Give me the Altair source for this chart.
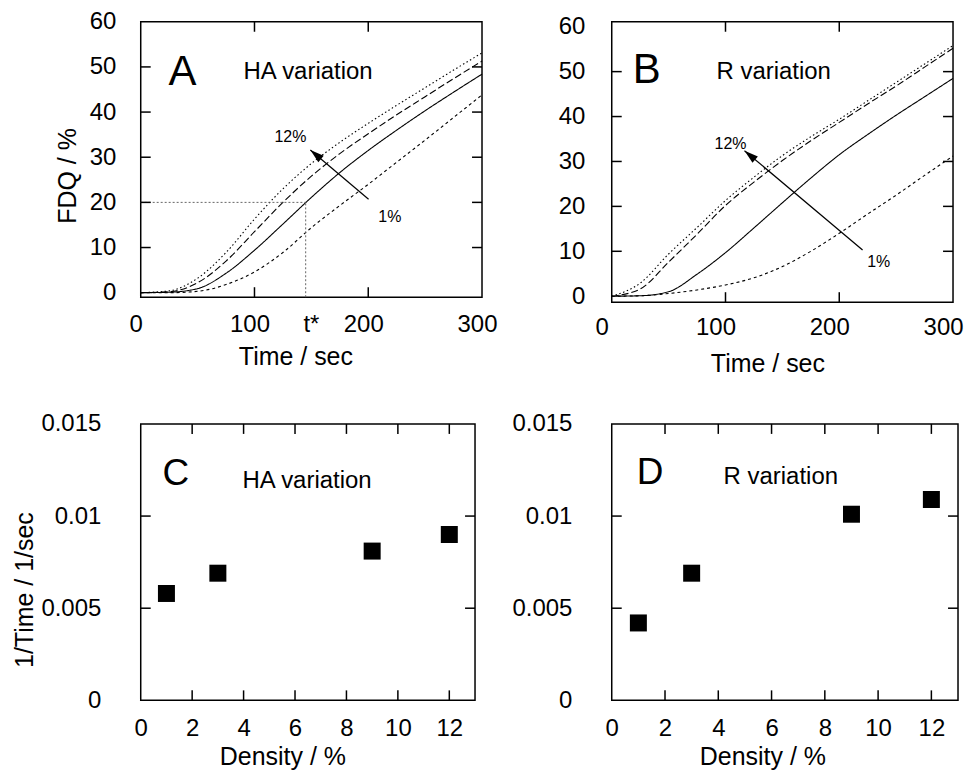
import altair as alt
import pandas as pd

FONT = "Liberation Sans"

# ---------------- data ----------------
TIME = [0, 25, 50, 75, 100, 125, 150, 175, 200, 225, 250, 275, 300]
SERIES = ["1%", "3%", "9%", "12%"]

# Panel A : HA variation (FDQ %)
HA_1 = [0, 0.0, 0.3, 1.8, 4.6, 8.9, 14.4, 19.3, 24.0, 28.9, 33.8, 38.8, 43.8]
HA_3 = [0, 0.1, 0.9, 4.3, 9.4, 15.2, 21.1, 26.6, 31.5, 36.0, 40.3, 44.4, 48.4]
HA_9 = [0, 0.2, 2.2, 7.0, 13.5, 20.0, 25.8, 30.8, 35.2, 39.4, 43.4, 47.4, 51.3]
HA_12 = [0, 0.4, 3.2, 8.9, 16.3, 23.0, 28.6, 33.3, 37.5, 41.5, 45.4, 49.3, 53.1]

# Panel B : R variation (FDQ %)
R_1 = [0, 0.1, 0.6, 1.4, 2.5, 4.1, 6.6, 10.0, 14.0, 18.3, 22.5, 26.9, 31.2]
R_3 = [0, 0.1, 1.0, 4.9, 9.7, 15.2, 20.8, 26.3, 31.5, 36.0, 40.3, 44.4, 48.5]
R_9 = [0, 1.6, 7.6, 13.8, 20.2, 25.4, 30.2, 34.6, 38.7, 42.8, 46.8, 51.0, 55.2]
R_12 = [0, 2.9, 9.4, 15.3, 21.3, 26.5, 31.3, 35.5, 39.4, 43.5, 47.6, 51.7, 55.8]

# Panels C, D : 1/time vs density
DENSITY = [1, 3, 9, 12]
HA_RATE = [0.0058, 0.0069, 0.0081, 0.0090]
R_RATE = [0.0042, 0.0069, 0.0101, 0.0109]

# axes / ticks
TIME_LABELS = [0, 100, 200, 300]
TIME_TICKS = [100, 200]
FDQ_LABELS = [0, 10, 20, 30, 40, 50, 60]
FDQ_TICKS = [10, 20, 30, 40, 50]
DENS_LABELS = [0, 2, 4, 6, 8, 10, 12]
DENS_TICKS = [2, 4, 6, 8, 10, 12]
RATE_LABELS = [0, 0.005, 0.01, 0.015]
RATE_TICKS = [0.005, 0.01]

T_STAR = 145          # dotted construction line
T_STAR_LABEL = 154    # where "t*" label sits on the axis
FDQ_STAR = 20

# annotations (data coordinates)
A_ARROW = {"t0": 200.3, "v0": 20.7, "t1": 149.1, "v1": 31.6}
B_ARROW = {"t0": 220.5, "v0": 10.3, "t1": 116.7, "v1": 32.4}

A_LETTER = {"x": [24.5], "y": [46.0], "text": ["A"]}
A_SUB = {"x": [90.4], "y": [47.4], "text": ["HA variation"]}
A_PCT = {"x": [117.5, 208.8], "y": [33.3, 15.6], "text": ["12%", "1%"]}

B_LETTER = {"x": [18.4], "y": [47.5], "text": ["B"]}
B_SUB = {"x": [92.1], "y": [48.4], "text": ["R variation"]}
B_PCT = {"x": [90.4, 224.6], "y": [32.7, 6.4], "text": ["12%", "1%"]}

C_LETTER = {"x": [0.85], "y": [0.0117], "text": ["C"]}
C_SUB = {"x": [3.96], "y": [0.01153], "text": ["HA variation"]}
D_LETTER = {"x": [0.94], "y": [0.01175], "text": ["D"]}
D_SUB = {"x": [4.2], "y": [0.01175], "text": ["R variation"]}


def curves(lists):
    rows = []
    for name, vals in zip(SERIES, lists):
        for t, v in zip(TIME, vals):
            rows.append({"t": t, "v": v, "series": name})
    return pd.DataFrame(rows)


def axis(title, values, lpad, tx, ty, bottom, fmt=None, expr=None, loff=None):
    kw = dict(
        values=values, ticks=False, tickSize=0, domain=False, grid=False,
        labelFont=FONT, labelFontSize=24, labelColor="black",
        labelPadding=lpad, labelFlush=False, labelOverlap=False,
        titleFont=FONT, titleFontSize=25, titleFontWeight="normal",
        titleColor="black", titleX=tx, titleY=ty, titleAlign="center",
    )
    kw["title"] = title
    if bottom:
        kw.update(titleAngle=0, titleBaseline="top")
    else:
        kw.update(titleAngle=270, titleBaseline="bottom")
    if fmt:
        kw["format"] = fmt
    if expr:
        kw["labelExpr"] = expr
    if loff is not None:
        kw["labelOffset"] = loff
    return alt.Axis(**kw)


class Frame:
    """x/y scale + axis pair shared by every layer of one panel."""

    def __init__(self, xs, ys, xa, ya):
        self.xs, self.ys, self.xa, self.ya = xs, ys, xa, ya

    def X(self, f):
        return alt.X(f, scale=self.xs, axis=self.xa)

    def Y(self, f):
        return alt.Y(f, scale=self.ys, axis=self.ya)


def tick_layers(fr, xticks, yticks, W, H):
    L = 10
    xd = pd.DataFrame({"v": xticks})
    yd = pd.DataFrame({"v": yticks})
    rule = dict(color="black", strokeWidth=1.5)
    return [
        alt.Chart(xd).mark_rule(**rule).encode(x=fr.X("v:Q"), y=alt.value(H - L), y2=alt.value(H)),
        alt.Chart(xd).mark_rule(**rule).encode(x=fr.X("v:Q"), y=alt.value(0), y2=alt.value(L)),
        alt.Chart(yd).mark_rule(**rule).encode(y=fr.Y("v:Q"), x=alt.value(0), x2=alt.value(L)),
        alt.Chart(yd).mark_rule(**rule).encode(y=fr.Y("v:Q"), x=alt.value(W - L), x2=alt.value(W)),
    ]


def text_layer(d, fr, size):
    return alt.Chart(pd.DataFrame(d)).mark_text(
        align="left", baseline="alphabetic", font=FONT, fontSize=size, color="black"
    ).encode(x=fr.X("x:Q"), y=fr.Y("y:Q"), text="text:N")


def arrow_layers(a, fr):
    d = pd.DataFrame([a])
    line = alt.Chart(d).mark_rule(color="black", strokeWidth=1.2).encode(
        x=fr.X("t0:Q"), y=fr.Y("v0:Q"), x2="t1:Q", y2="v1:Q",
    )
    head = alt.Chart(d).mark_point(
        shape="M0,0L0.3,1L-0.3,1Z", filled=True, color="black", opacity=1,
        size=784, angle=310, strokeWidth=0,
    ).encode(x=fr.X("t1:Q"), y=fr.Y("v1:Q"))
    return [line, head]


DASH = alt.StrokeDash(
    "series:N",
    scale=alt.Scale(domain=SERIES, range=[[3, 3], [1, 0], [7, 3], [1.5, 2.5]]),
    legend=None,
)


def curve_panel(lists, ydom, W, H, xaxis, yaxis, arrow, letter, sub, pct, extra=None):
    fr = Frame(alt.Scale(domain=[0, 300], nice=False, zero=False),
               alt.Scale(domain=ydom, nice=False, zero=False), xaxis, yaxis)
    lines = alt.Chart(curves(lists)).mark_line(
        color="black", strokeWidth=1.1, interpolate="monotone"
    ).encode(x=fr.X("t:Q"), y=fr.Y("v:Q"), strokeDash=DASH, detail="series:N")
    layers = [lines]
    if extra is not None:
        layers += extra(fr)
    layers += tick_layers(fr, TIME_TICKS, FDQ_TICKS, W, H)
    layers += arrow_layers(arrow, fr)
    layers += [text_layer(letter, fr, 42), text_layer(sub, fr, 24), text_layer(pct, fr, 16)]
    return alt.layer(*layers).properties(width=W, height=H)


def tstar_lines(fr):
    h = pd.DataFrame({"x": [0], "x2": [T_STAR], "y": [FDQ_STAR]})
    v = pd.DataFrame({"x": [T_STAR], "y": [-1], "y2": [FDQ_STAR]})
    st = dict(color="#666666", strokeWidth=1, strokeDash=[2, 2])
    return [
        alt.Chart(h).mark_rule(**st).encode(x=fr.X("x:Q"), x2="x2:Q", y=fr.Y("y:Q")),
        alt.Chart(v).mark_rule(**st).encode(x=fr.X("x:Q"), y=fr.Y("y:Q"), y2="y2:Q"),
    ]


def point_panel(rates, W, H, xaxis, yaxis, letter, sub):
    fr = Frame(alt.Scale(domain=[0, 13], nice=False, zero=False),
               alt.Scale(domain=[0, 0.015], nice=False, zero=False), xaxis, yaxis)
    pts = alt.Chart(pd.DataFrame({"d": DENSITY, "r": rates})).mark_square(
        size=290, color="black", opacity=1
    ).encode(x=fr.X("d:Q"), y=fr.Y("r:Q"))
    layers = [pts] + tick_layers(fr, DENS_TICKS, RATE_TICKS, W, H)
    layers += [text_layer(letter, fr, 37), text_layer(sub, fr, 24)]
    return alt.layer(*layers).properties(width=W, height=H)


tstar_expr = f"datum.value == {T_STAR_LABEL} ? 't*' : datum.label"

A = curve_panel(
    [HA_1, HA_3, HA_9, HA_12], [-1, 60], 342, 276,
    axis("Time / sec", TIME_LABELS[:2] + [T_STAR_LABEL] + TIME_LABELS[2:], 15, 155, 47.5, True,
         expr=tstar_expr, loff=-5),
    axis("FDQ / %", FDQ_LABELS, 25, -60, 154, False),
    A_ARROW, A_LETTER, A_SUB, A_PCT, extra=tstar_lines,
)
B = curve_panel(
    [R_1, R_3, R_9, R_12], [-1.33, 61.1], 342, 281,
    axis("Time / sec", TIME_LABELS, 13, 156, 49.5, True, loff=-10),
    axis(None, FDQ_LABELS, 27, -60, 154, False),
    B_ARROW, B_LETTER, B_SUB, B_PCT,
)
C = point_panel(
    HA_RATE, 335, 277,
    axis("Density / %", DENS_LABELS, 16, 142, 44, True),
    axis("1/Time / 1/sec", RATE_LABELS, 40, -103, 166, False, fmt=".3~f"),
    C_LETTER, C_SUB,
)
D = point_panel(
    R_RATE, 347, 277,
    axis("Density / %", DENS_LABELS, 16, 151, 44, True),
    axis(None, RATE_LABELS, 40, -103, 166, False, fmt=".3~f"),
    D_LETTER, D_SUB,
)

chart = alt.concat(
    A, B, C, D, columns=2, spacing={"row": 122, "column": 130}, bounds="flush"
).properties(
    padding={"left": 4, "top": 0, "right": 0, "bottom": 0}
).configure_view(stroke="black", strokeWidth=1.5)

chart.save("out.html", embed_options={"renderer": "svg", "actions": False})
